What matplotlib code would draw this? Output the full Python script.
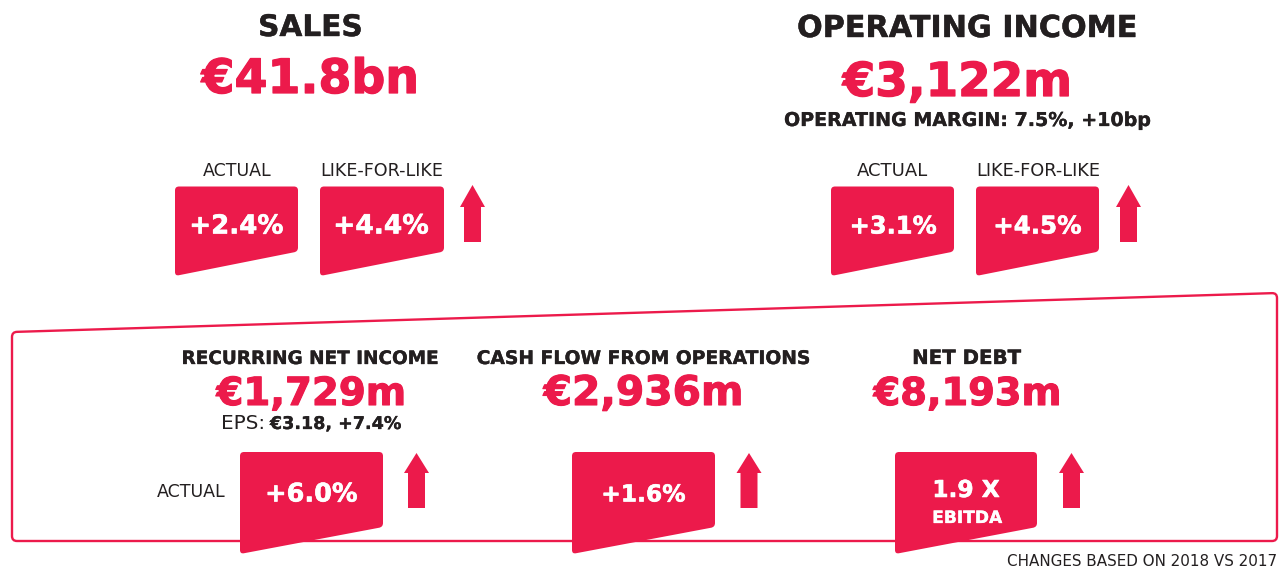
import matplotlib
matplotlib.use("Agg")
import matplotlib.pyplot as plt
import matplotlib.patheffects as pe
from matplotlib.patches import PathPatch
from matplotlib.path import Path
import numpy as np

# ---------------- data ----------------
headline_titles = ["SALES", "OPERATING INCOME"]
headline_values = ["€41.8bn", "€3,122m"]
op_margin_text = "OPERATING MARGIN: 7.5%, +10bp"
badge_labels = ["ACTUAL", "LIKE-FOR-LIKE"]
sales_changes = ["+2.4%", "+4.4%"]
opinc_changes = ["+3.1%", "+4.5%"]
bottom_titles = ["RECURRING NET INCOME", "CASH FLOW FROM OPERATIONS", "NET DEBT"]
bottom_values = ["€1,729m", "€2,936m", "€8,193m"]
eps_label = "EPS:"
eps_values = "€3.18, +7.4%"
bottom_row_label = "ACTUAL"
bottom_changes = ["+6.0%", "+1.6%", "1.9 X"]
net_debt_sub = "EBITDA"
footnote = "CHANGES BASED ON 2018 VS 2017"

# ---------------- style ----------------
RED = "#EC1A4B"
DARK = "#231F20"
FONT = "DejaVu Sans"

W, H = 1287, 569
fig = plt.figure(figsize=(W / 100, H / 100), dpi=100)
ax = fig.add_axes([0, 0, 1, 1])
ax.set_xlim(0, W)
ax.set_ylim(H, 0)
ax.axis("off")
renderer = fig.canvas.get_renderer()


def fit_text(x0, x1, y, s, color=DARK, weight="bold", ha="center", stroke=0.0, z=5):
    """Place text so its rendered width spans x0..x1 (pixel layout)."""
    pad = stroke / 0.72  # stroke width in px
    x0, x1 = x0 + pad / 2, x1 - pad / 2
    if ha == "center":
        x = (x0 + x1) / 2
    elif ha == "left":
        x = x0
    else:
        x = x1
    t = ax.text(x, y, s, fontsize=20, color=color, fontweight=weight,
                family=FONT, ha=ha, va="baseline", zorder=z)
    for _ in range(2):
        bb = t.get_window_extent(renderer)
        t.set_fontsize(t.get_fontsize() * (x1 - x0) / bb.width)
    if stroke > 0:
        t.set_path_effects([pe.withStroke(linewidth=stroke, foreground=color)])
    return t


def rounded_path(pts, r):
    pts = np.asarray(pts, float)
    n = len(pts)
    verts, codes = [], []
    for i in range(n):
        p_prev, p, p_next = pts[i - 1], pts[i], pts[(i + 1) % n]
        d1 = (p_prev - p) / np.linalg.norm(p_prev - p)
        d2 = (p_next - p) / np.linalg.norm(p_next - p)
        a, b = p + d1 * r, p + d2 * r
        verts += [tuple(a), tuple(p), tuple(b)]
        codes += [Path.MOVETO if i == 0 else Path.LINETO, Path.CURVE3, Path.CURVE3]
    verts.append(verts[0])
    codes.append(Path.CLOSEPOLY)
    return Path(verts, codes)


def badge(x0, x1, top, br, bl, r=4.0):
    pts = [(x0, top), (x1, top), (x1, br), (x0, bl)]
    ax.add_patch(PathPatch(rounded_path(pts, r), facecolor=RED, edgecolor="none", zorder=3))


def arrow(cx, top, base, bottom, head_w=25, shaft_w=17):
    pts = [(cx, top), (cx + head_w / 2, base), (cx + shaft_w / 2, base),
           (cx + shaft_w / 2, bottom), (cx - shaft_w / 2, bottom),
           (cx - shaft_w / 2, base), (cx - head_w / 2, base)]
    ax.add_patch(PathPatch(Path(pts + [pts[0]], [Path.MOVETO] + [Path.LINETO] * 6 + [Path.CLOSEPOLY]),
                           facecolor=RED, edgecolor="none", zorder=3))


# ---------------- top section ----------------
fit_text(258, 363, 36, headline_titles[0], stroke=0.3)
fit_text(201, 420, 93, headline_values[0], color=RED, stroke=0.9)
fit_text(797, 1137, 37, headline_titles[1], stroke=0.3)
fit_text(842, 1073, 96, headline_values[1], color=RED, stroke=0.9)
fit_text(784, 1151, 126, op_margin_text, stroke=0.2)

top_groups = [
    ([(175, 298), (320, 444)], sales_changes, 472.5, [(203, 272), (320, 443)],
     [(189, 284), (333, 429)]),
    ([(831, 954), (976, 1099)], opinc_changes, 1128.5, [(857, 928), (976, 1100)],
     [(849, 937), (993, 1082)]),
]
for spans, vals, acx, lab_spans, val_spans in top_groups:
    for (x0, x1), v, lab, (lx0, lx1), (vx0, vx1) in zip(spans, vals, badge_labels,
                                                       lab_spans, val_spans):
        badge(x0, x1, 186.5, 251.5, 276)
        fit_text(lx0, lx1, 176, lab, weight="normal")
        fit_text(vx0, vx1, 233.5, v, color="white", stroke=0.4)
    arrow(acx, 185, 207, 242)

# ---------------- bottom box ----------------
box = PathPatch(rounded_path([(12, 332), (1277, 293), (1277, 541), (12, 541)], 5),
                facecolor="none", edgecolor=RED, lw=1.7, zorder=2)
ax.add_patch(box)

title_spans = [(182, 440), (477, 811), (912, 1021)]
value_spans = [(216, 407), (543, 744), (873, 1062)]
badge_spans = [(240, 383), (572, 715), (895, 1037)]
arrow_cx = [416.5, 749, 1071.5]

for i in range(3):
    fit_text(*title_spans[i], 364, bottom_titles[i], stroke=0.25)
    fit_text(*value_spans[i], 405, bottom_values[i], color=RED, stroke=0.8)
    x0, x1 = badge_spans[i]
    badge(x0, x1, 452, 527, 554)
    arrow(arrow_cx[i], 453, 473, 508)

fit_text(265, 358, 501.5, bottom_changes[0], color="white", stroke=0.4)
fit_text(601, 686, 501.5, bottom_changes[1], color="white", stroke=0.4)
fit_text(932, 1000, 497, bottom_changes[2], color="white", stroke=0.4)
fit_text(932, 1002, 523, net_debt_sub, color="white", stroke=0.2)

fit_text(221, 265, 429, eps_label, weight="normal")
fit_text(270, 401, 429, eps_values, stroke=0.2)
fit_text(157, 226, 497, bottom_row_label, weight="normal")

fit_text(1007, 1277, 566, footnote, weight="normal")

fig.savefig("out.png", dpi=100)
